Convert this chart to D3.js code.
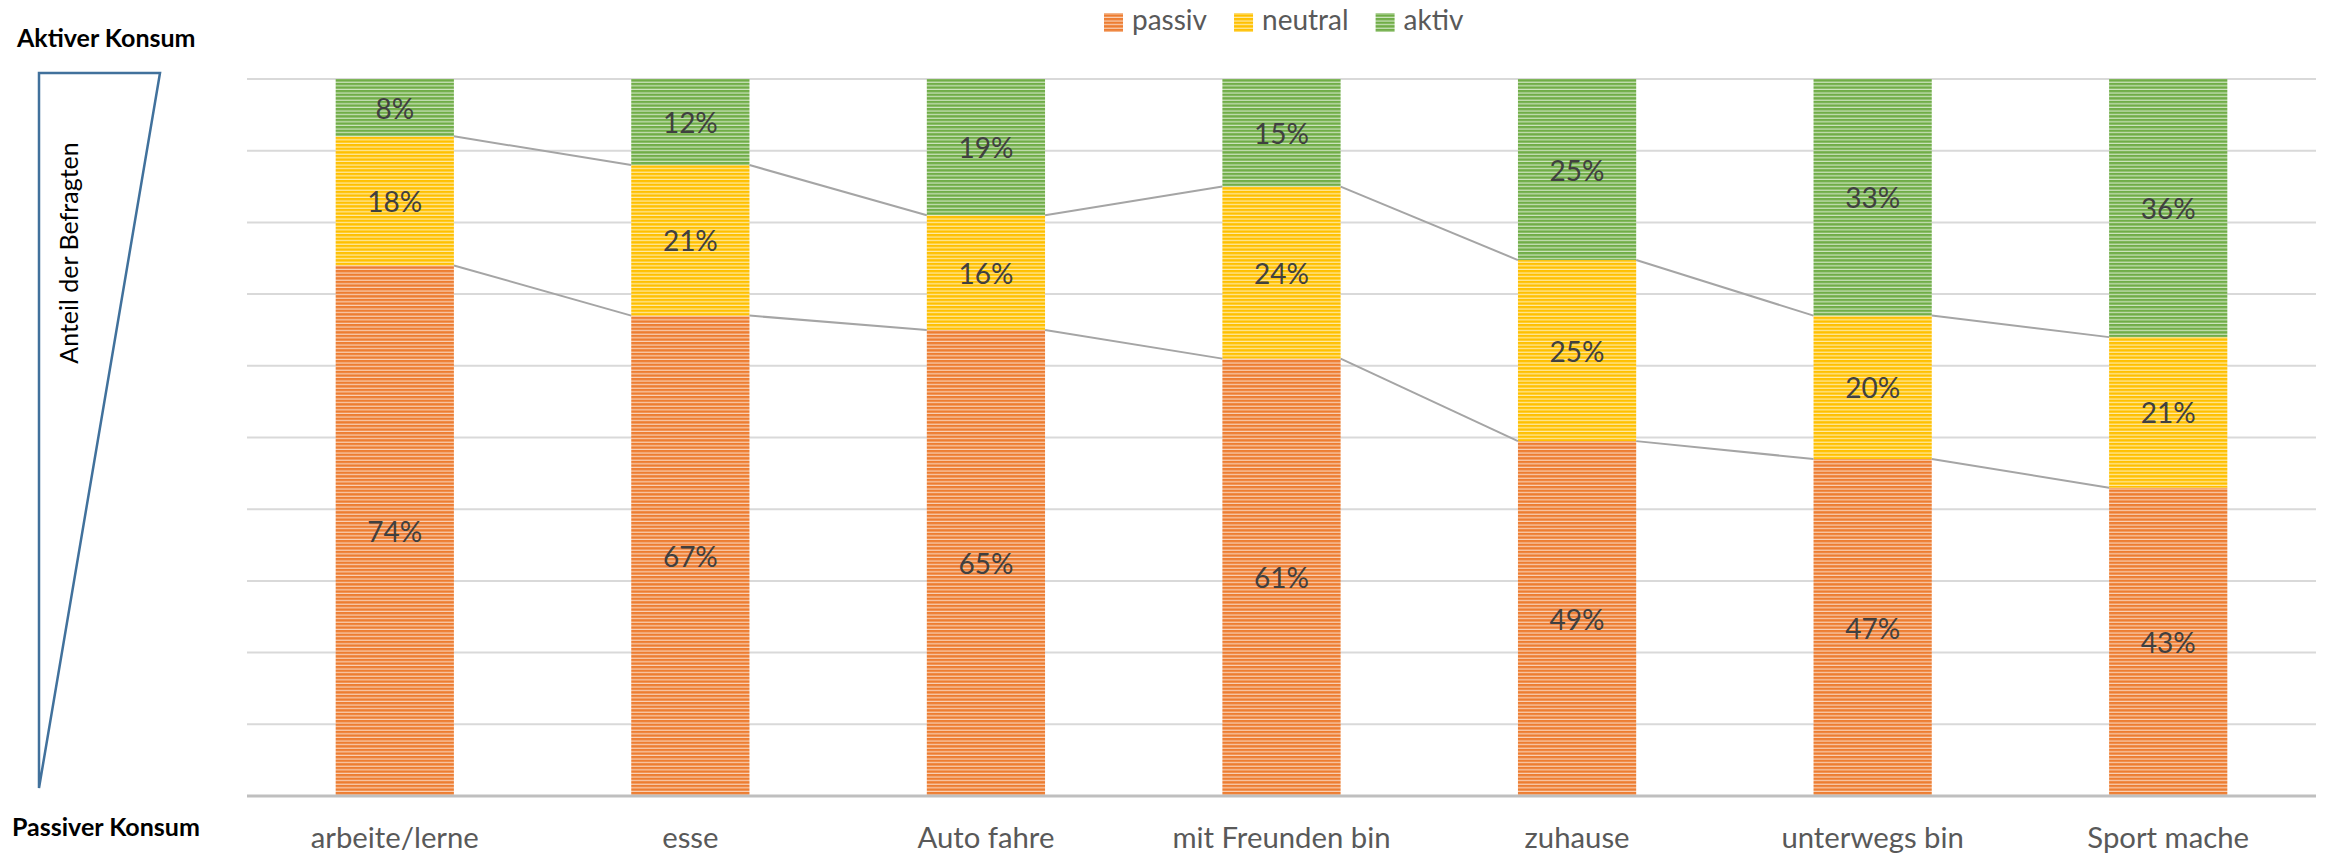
<!DOCTYPE html>
<html>
<head>
<meta charset="utf-8">
<script src="https://cdn.jsdelivr.net/npm/d3@7"></script>
<style>
  body { margin: 0; background: #fff; }
  text { font-family: Lato, "Open Sans", sans-serif; }
</style>
</head>
<body>
<div id="canvas"></div>
<script>
"use strict";

let svgWidth = 2326;
let svgHeight = 854;

/* Data */
let categories = ["arbeite/lerne", "esse", "Auto fahre", "mit Freunden bin", "zuhause", "unterwegs bin", "Sport mache"];
let seriesNames = ["passiv", "neutral", "aktiv"];
let passiv = [74, 67, 65, 61, 49, 47, 43];
let neutral = [18, 21, 16, 24, 25, 20, 21];
let aktiv = [8, 12, 19, 15, 25, 33, 36];
let gridTicks = [0.1, 0.2, 0.3, 0.4, 0.5, 0.6, 0.7, 0.8, 0.9, 1.0];

let colors = { passiv: "#ED7D31", neutral: "#FFC000", aktiv: "#70AD47" };
let lightColors = { passiv: "#F9D2B8", neutral: "#FFEBA8", aktiv: "#CFE5C1" };

let rows = categories.map((c, i) => ({ cat: c, passiv: passiv[i], neutral: neutral[i], aktiv: aktiv[i] }));

let svg = d3.select("#canvas")
  .append("svg")
  .attr("width", svgWidth)
  .attr("height", svgHeight);

/* Stripe patterns */
let defs = svg.append("defs");
seriesNames.forEach(name => {
  let p = defs.append("pattern")
    .attr("id", "pat-" + name)
    .attr("patternUnits", "userSpaceOnUse")
    .attr("width", 8)
    .attr("height", 3.6);
  p.append("rect").attr("width", 8).attr("height", 3.6).attr("fill", lightColors[name]);
  p.append("rect").attr("width", 8).attr("height", 2.4).attr("fill", colors[name]);
});

/* Scales */
let xScale = d3.scaleBand()
  .domain(categories)
  .range([247, 2316])
  .paddingInner(0.6)
  .paddingOuter(0.3);

let yScale = d3.scaleLinear()
  .domain([0, 1])
  .range([796, 79]);

/* Gridlines */
svg.selectAll(".grid")
  .data(gridTicks)
  .enter()
  .append("line")
  .attr("x1", 247)
  .attr("x2", 2316)
  .attr("y1", d => yScale(d))
  .attr("y2", d => yScale(d))
  .attr("stroke", "#D9D9D9")
  .attr("stroke-width", 2);

/* Stack (100%) */
let stack = d3.stack().keys(seriesNames).offset(d3.stackOffsetExpand);
let layers = stack(rows);

let bw = xScale.bandwidth();

layers.forEach(layer => {
  svg.selectAll(".seg-" + layer.key)
    .data(layer)
    .enter()
    .append("rect")
    .attr("x", d => xScale(d.data.cat))
    .attr("y", d => yScale(d[1]))
    .attr("width", bw)
    .attr("height", d => yScale(d[0]) - yScale(d[1]))
    .attr("fill", "url(#pat-" + layer.key + ")");
});

/* Series lines */
layers.slice(0, 2).forEach(layer => {
  for (let i = 0; i < layer.length - 1; i++) {
    svg.append("line")
      .attr("x1", xScale(categories[i]) + bw)
      .attr("y1", yScale(layer[i][1]))
      .attr("x2", xScale(categories[i + 1]))
      .attr("y2", yScale(layer[i + 1][1]))
      .attr("stroke", "#A5A5A5")
      .attr("stroke-width", 2);
  }
});

/* Data labels */
layers.forEach(layer => {
  svg.selectAll(".lab-" + layer.key)
    .data(layer)
    .enter()
    .append("text")
    .attr("x", d => xScale(d.data.cat) + bw / 2)
    .attr("y", d => (yScale(d[0]) + yScale(d[1])) / 2)
    .attr("text-anchor", "middle")
    .attr("dominant-baseline", "central")
    .attr("font-size", "28px")
    .attr("fill", "#404040")
    .text(d => d.data[layer.key] + "%");
});

/* Category axis */
svg.append("line")
  .attr("x1", 247)
  .attr("x2", 2316)
  .attr("y1", yScale(0))
  .attr("y2", yScale(0))
  .attr("stroke", "#BFBFBF")
  .attr("stroke-width", 3);

svg.selectAll(".cat")
  .data(categories)
  .enter()
  .append("text")
  .attr("x", d => xScale(d) + bw / 2)
  .attr("y", 841)
  .attr("text-anchor", "middle")
  .attr("dominant-baseline", "middle")
  .attr("font-size", "29.3px")
  .attr("fill", "#595959")
  .text(d => d);

/* Legend */
let lx = 1104;
seriesNames.forEach(name => {
  svg.append("rect")
    .attr("x", lx)
    .attr("y", 13)
    .attr("width", 19)
    .attr("height", 19)
    .attr("fill", "url(#pat-" + name + ")");
  let t = svg.append("text")
    .attr("x", lx + 28)
    .attr("y", 23)
    .attr("dominant-baseline", "middle")
    .attr("font-size", "28px")
    .attr("fill", "#595959")
    .text(name);
  lx = lx + 28 + t.node().getComputedTextLength() + 27;
});

/* Left annotation */
svg.append("text")
  .attr("x", 17)
  .attr("y", 41)
  .attr("dominant-baseline", "middle")
  .attr("font-size", "25px")
  .attr("font-weight", "bold")
  .attr("fill", "#000")
  .text("Aktiver Konsum");

svg.append("text")
  .attr("x", 12)
  .attr("y", 830)
  .attr("dominant-baseline", "middle")
  .attr("font-size", "25px")
  .attr("font-weight", "bold")
  .attr("fill", "#000")
  .text("Passiver Konsum");

svg.append("path")
  .attr("d", "M39,73 L160,73 L39,788 Z")
  .attr("fill", "none")
  .attr("stroke", "#41719C")
  .attr("stroke-width", 2.5);

svg.append("text")
  .attr("transform", "translate(72,253) rotate(-90)")
  .attr("text-anchor", "middle")
  .attr("dominant-baseline", "middle")
  .attr("font-size", "25px")
  .attr("fill", "#000")
  .text("Anteil der Befragten");
</script>
</body>
</html>
